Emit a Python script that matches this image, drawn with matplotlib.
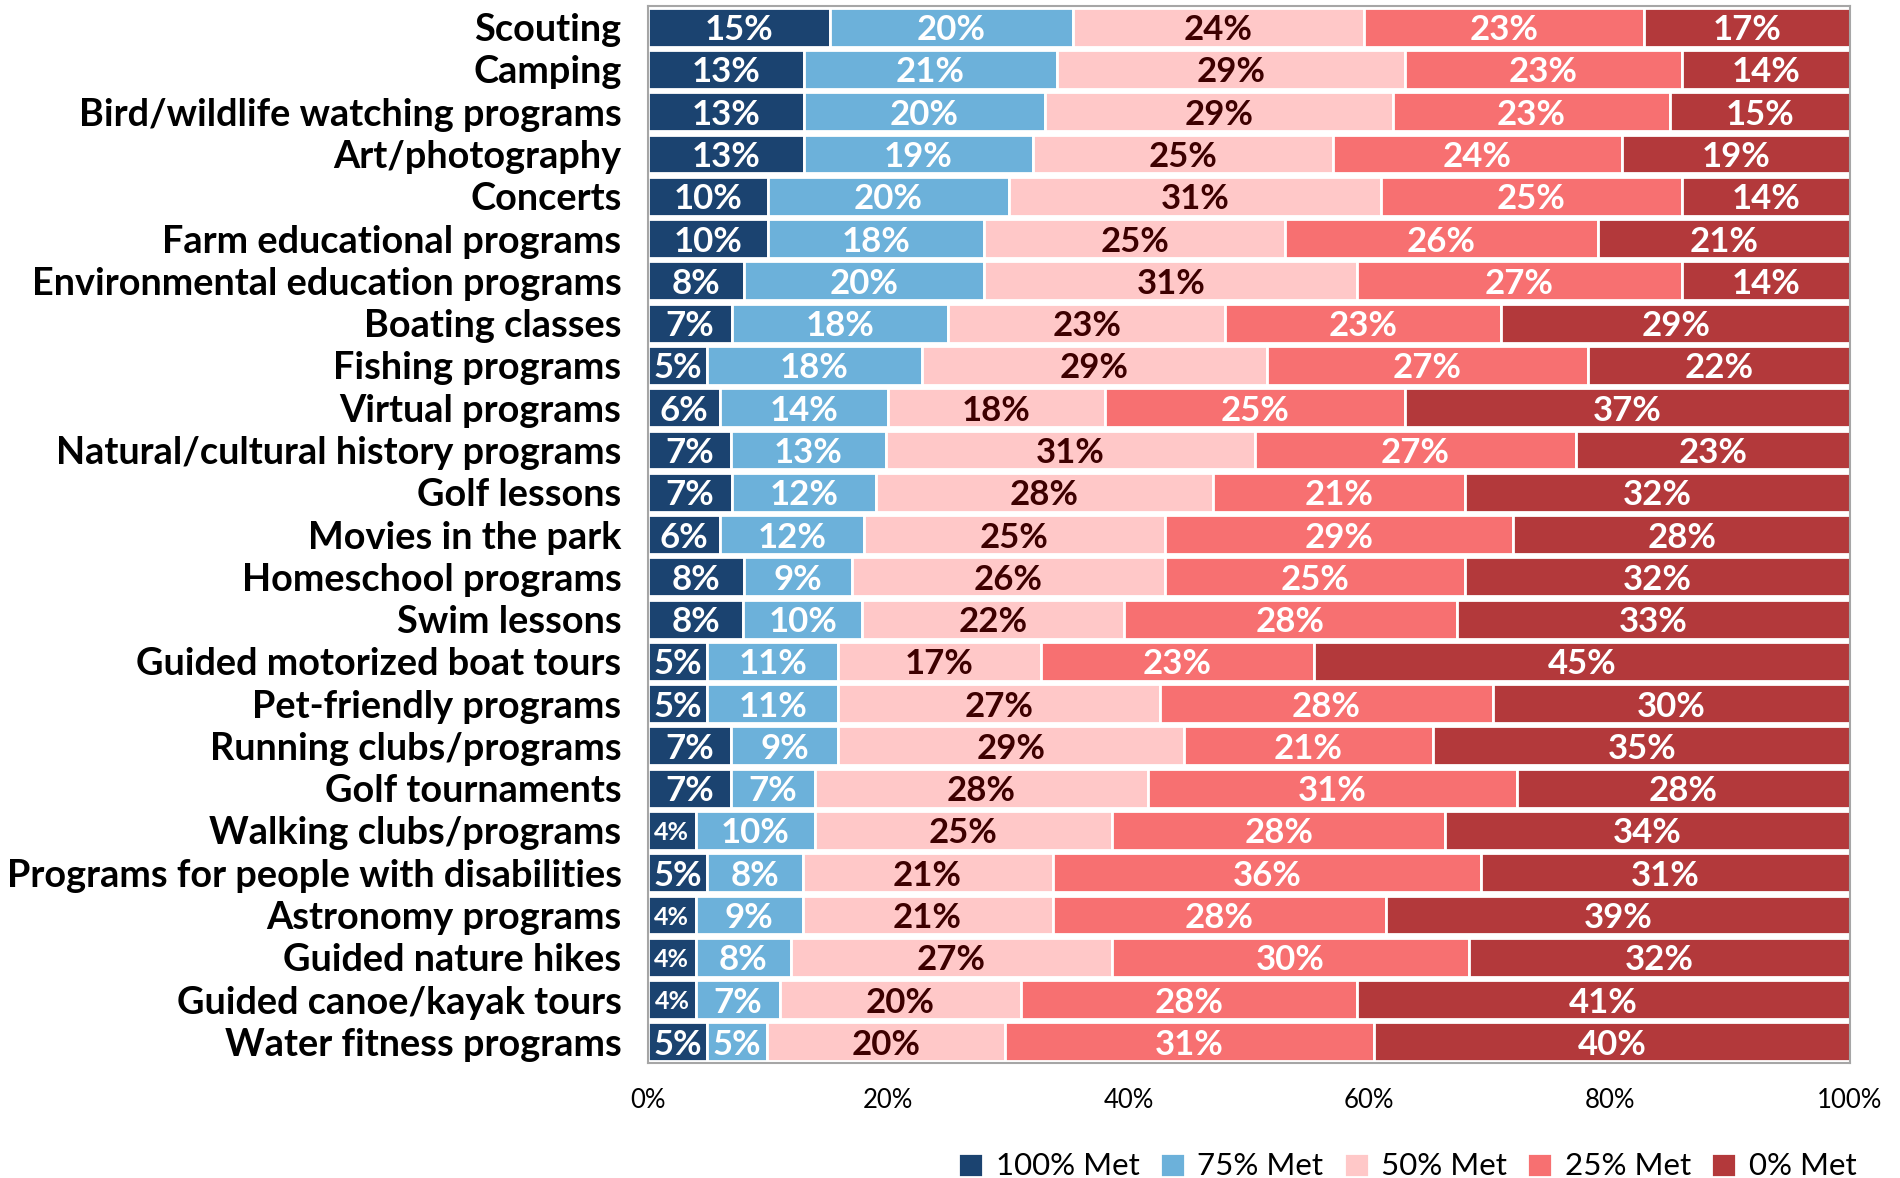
import numpy as np
import matplotlib.pyplot as plt

# categories top to bottom
programs = ["Scouting", "Camping", "Bird/wildlife watching programs", "Art/photography",
            "Concerts", "Farm educational programs", "Environmental education programs",
            "Boating classes", "Fishing programs", "Virtual programs",
            "Natural/cultural history programs", "Golf lessons", "Movies in the park",
            "Homeschool programs", "Swim lessons", "Guided motorized boat tours",
            "Pet-friendly programs", "Running clubs/programs", "Golf tournaments",
            "Walking clubs/programs", "Programs for people with disabilities",
            "Astronomy programs", "Guided nature hikes", "Guided canoe/kayak tours",
            "Water fitness programs"]

met_100 = [15, 13, 13, 13, 10, 10, 8, 7, 5, 6, 7, 7, 6, 8, 8, 5, 5, 7, 7, 4, 5, 4, 4, 4, 5]
met_75 = [20, 21, 20, 19, 20, 18, 20, 18, 18, 14, 13, 12, 12, 9, 10, 11, 11, 9, 7, 10, 8, 9, 8, 7, 5]
met_50 = [24, 29, 29, 25, 31, 25, 31, 23, 29, 18, 31, 28, 25, 26, 22, 17, 27, 29, 28, 25, 21, 21, 27, 20, 20]
met_25 = [23, 23, 23, 24, 25, 26, 27, 23, 27, 25, 27, 21, 29, 25, 28, 23, 28, 21, 31, 28, 36, 28, 30, 28, 31]
met_0 = [17, 14, 15, 19, 14, 21, 14, 29, 22, 37, 23, 32, 28, 32, 33, 45, 30, 35, 28, 34, 31, 39, 32, 41, 40]

series = ["100% Met", "75% Met", "50% Met", "25% Met", "0% Met"]
colors = ["#1B4370", "#6CB1DA", "#FFC8C8", "#F77071", "#B3393B"]
text_colors = ["white", "white", "#3D0000", "white", "white"]

plt.rcParams['font.family'] = ['Lato', 'DejaVu Sans']

data = np.array([met_100, met_75, met_50, met_25, met_0], dtype=float)
shares = data / data.sum(axis=0) * 100  # rows fill to 100%

fig = plt.figure(figsize=(19, 11.78), dpi=100)
ax = fig.add_axes([0.341, 0.0976, 0.6327, 0.8973])

y = np.arange(len(programs))
left = np.zeros(len(programs))
for k in range(5):
    ax.barh(y, shares[k], left=left, height=0.92, color=colors[k],
            edgecolor="white", linewidth=2, label=series[k])
    for i in range(len(programs)):
        v = data[k, i]
        fs = 18 if v < 5 else 25
        ax.text(left[i] + shares[k, i] / 2, y[i], f"{int(v)}%", ha="center",
                va="center_baseline", color=text_colors[k], fontsize=fs, fontweight="bold")
    left += shares[k]

ax.set_xlim(0, 100)
ax.set_ylim(len(programs) - 0.5, -0.5)
ax.set_yticks(y)
ax.set_yticklabels(programs, fontsize=27.3, fontweight="bold", va="center_baseline")
ax.set_xticks(np.arange(0, 101, 20))
ax.set_xticklabels([f"{t}%" for t in range(0, 101, 20)], fontsize=18.5)
ax.tick_params(axis="both", length=0)
ax.tick_params(axis="x", pad=18)
ax.tick_params(axis="y", pad=19)
for s in ax.spines.values():
    s.set_color("#A6A6A6")
    s.set_linewidth(1.5)

fig.legend(loc="lower right", bbox_to_anchor=(0.987, -0.018), ncol=5, frameon=False,
           fontsize=22.5, handlelength=0.8, handleheight=0.8, handletextpad=0.4,
           columnspacing=0.65, borderpad=0.1)

fig.savefig("out.png", dpi=100)
